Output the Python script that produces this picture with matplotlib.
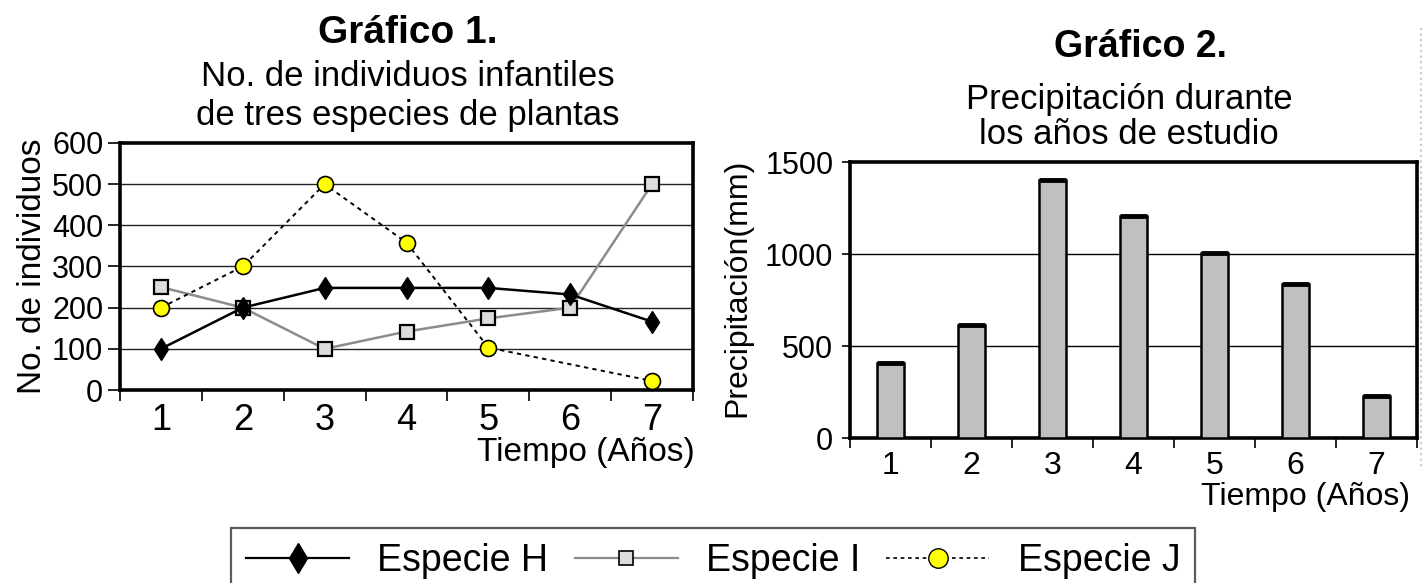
import numpy as np
import matplotlib
matplotlib.use("Agg")
import matplotlib.pyplot as plt
from matplotlib.lines import Line2D

plt.rcParams['font.family'] = ['Liberation Sans', 'DejaVu Sans']

# Grafico 1: individuos infantiles por especie
anios = [1, 2, 3, 4, 5, 6, 7]
especie_h = [100, 200, 248, 248, 248, 232, 166]
especie_i = [250, 200, 100, 142, 174, 200, 500]
anios_j = [1, 2, 3, 4, 5, 7]          # la especie J no tiene dato en el año 6
especie_j = [200, 300, 500, 358, 103, 22]

# Grafico 2: precipitacion (mm)
precipitacion = [405, 615, 1400, 1205, 1005, 835, 230]

W, H = 1427, 583


def fx(px):
    return px / W


def fy(py):
    return 1 - py / H


def main():
    fig = plt.figure(figsize=(W / 100, H / 100), dpi=100)

    # ---------- Grafico 1 ----------
    ax1 = fig.add_axes([fx(120), fy(390), fx(693 - 120), (390 - 143) / H])
    ax1.plot(anios, especie_i, color='#8c8c8c', lw=1.8, marker='s', ms=10,
             mfc='#dcdcdc', mec='black', mew=1.6, zorder=3)
    ax1.plot(anios, especie_h, color='black', lw=1.8, marker='d', ms=11.5,
             mfc='black', mec='black', zorder=4)
    ax1.plot(anios_j, especie_j, color='black', lw=1.4, ls=(0, (2.2, 2.2)),
             marker='o', ms=11.5, mfc='#ffff00', mec='black', mew=1.2, zorder=5)

    ax1.set_xlim(0.5, 7.5)
    ax1.set_ylim(0, 600)
    ax1.set_yticks(range(0, 601, 100))
    ax1.set_xticks(anios)
    ax1.set_xticks(np.arange(0.5, 8, 1), minor=True)
    ax1.tick_params(axis='y', labelsize=22, length=9, width=1.2, pad=3)
    ax1.tick_params(axis='x', which='major', labelsize=26, length=0, pad=9)
    ax1.tick_params(axis='x', which='minor', length=8, width=1.2, direction='out')
    for y in range(100, 600, 100):
        ax1.axhline(y, color='#222222', lw=1.0, zorder=1)
    for s in ax1.spines.values():
        s.set_linewidth(2.6)
    ax1.set_ylabel('No. de individuos', fontsize=24)
    # coordenada x = borde derecho del texto girado
    ax1.yaxis.set_label_coords((48 - 120) / 573, 0.5)

    fig.text(fx(408), fy(33), 'Gráfico 1.', fontsize=28, fontweight='bold',
             ha='center', va='center')
    fig.text(fx(408), fy(77), 'No. de individuos infantiles', fontsize=25,
             ha='center', va='center')
    fig.text(fx(408), fy(115), 'de tres especies de plantas', fontsize=25,
             ha='center', va='center')
    fig.text(fx(695), fy(453), 'Tiempo (Años)', fontsize=24, ha='right', va='center')

    # ---------- Grafico 2 ----------
    ax2 = fig.add_axes([fx(850), fy(438), fx(1417 - 850), (438 - 162) / H])
    ancho = 0.33
    ax2.bar(anios, precipitacion, width=ancho, color='#c0c0c0',
            edgecolor='black', lw=1.8, zorder=3)
    ax2.hlines(precipitacion, np.array(anios) - ancho / 2, np.array(anios) + ancho / 2,
               color='black', lw=3.5, zorder=4)
    ax2.set_xlim(0.5, 7.5)
    ax2.set_ylim(0, 1500)
    ax2.set_yticks([0, 500, 1000, 1500])
    ax2.set_xticks(anios)
    ax2.set_xticks(np.arange(0.5, 8, 1), minor=True)
    ax2.tick_params(axis='y', labelsize=22, length=6, width=1.2, pad=6)
    ax2.tick_params(axis='x', which='major', labelsize=23, length=0, pad=9)
    ax2.tick_params(axis='x', which='minor', length=7, width=1.2, direction='out')
    for y in [500, 1000]:
        ax2.axhline(y, color='black', lw=1.0, zorder=1)
    for s in ax2.spines.values():
        s.set_linewidth(2.6)
    ax2.set_ylabel('Precipitación(mm)', fontsize=23)
    ax2.yaxis.set_label_coords((752 - 850) / 567, 0.545)

    fig.text(fx(1140), fy(47), 'Gráfico 2.', fontsize=27, fontweight='bold',
             ha='center', va='center')
    fig.text(fx(1129), fy(100), 'Precipitación durante', fontsize=25,
             ha='center', va='center')
    fig.text(fx(1129), fy(135), 'los años de estudio', fontsize=25,
             ha='center', va='center')
    fig.text(fx(1410), fy(497), 'Tiempo (Años)', fontsize=23, ha='right', va='center')

    # borde gris a la derecha (escaneo)
    fig.add_artist(Line2D([fx(1421), fx(1421)], [fy(28), fy(470)],
                          color='#c8c8c8', lw=1.5, ls=':'))

    # ---------- Leyenda ----------
    handles = [
        Line2D([], [], color='black', lw=1.6, marker='d', ms=15, mfc='black'),
        Line2D([], [], color='#8c8c8c', lw=1.6, marker='s', ms=10,
               mfc='#dcdcdc', mec='black', mew=1.2),
        Line2D([], [], color='black', lw=1.2, ls=(0, (2.2, 2.2)), marker='o',
               ms=14, mfc='#ffff00', mec='black', mew=1.0),
    ]
    leg = fig.legend(handles, ['Especie H', 'Especie I', 'Especie J'],
                     loc='upper left', bbox_to_anchor=(fx(231), fy(528)),
                     ncol=3, fontsize=27, frameon=True, fancybox=False,
                     borderaxespad=0, borderpad=0.4, handlelength=2.75,
                     handletextpad=0.75, columnspacing=0.7)
    leg.get_frame().set_edgecolor('#333333')
    leg.get_frame().set_linewidth(1.6)

    fig.savefig('out.png', dpi=100)


if __name__ == "__main__":
    main()
